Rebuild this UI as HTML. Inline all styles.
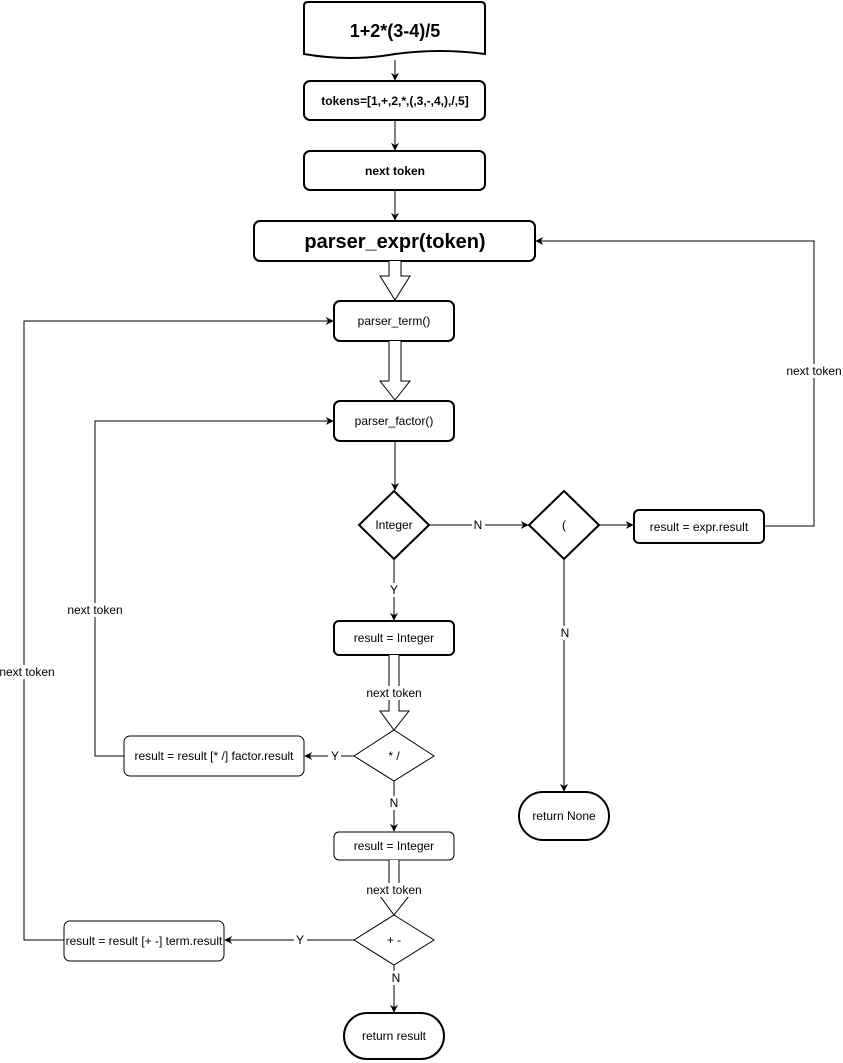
<!DOCTYPE html>
<html><head><meta charset="utf-8"><style>
html,body{margin:0;padding:0;background:#fff;}
svg{display:block;}
text{font-family:"Liberation Sans",Arial,sans-serif;fill:#000;}
</style></head><body>
<svg width="843" height="1063" viewBox="0 0 843 1063" xmlns="http://www.w3.org/2000/svg">
<defs>
<marker id="a" viewBox="0 0 10 10" refX="9" refY="5" markerWidth="8" markerHeight="8" markerUnits="userSpaceOnUse" orient="auto">
<path d="M0,0 L10,5 L0,10 L3,5 z" fill="#000"/>
</marker>
</defs>
<g fill="none" stroke="#000" stroke-width="1">
<!-- doc -->
<path d="M304,6 Q304,2 308,2 L481,2 Q485,2 485,6 L485,54 Q440,48 395,54 Q350,62 304,54 Z" stroke-width="2" fill="#fff"/>
<line x1="395" y1="60" x2="395" y2="80" marker-end="url(#a)"/>
<rect x="304" y="81" width="181" height="39" rx="6" stroke-width="2"/>
<line x1="395" y1="120" x2="395" y2="150" marker-end="url(#a)"/>
<rect x="304" y="151" width="181" height="39" rx="6" stroke-width="2"/>
<line x1="395" y1="190" x2="395" y2="220" marker-end="url(#a)"/>
<rect x="254" y="221" width="281" height="40" rx="6" stroke-width="2"/>
<!-- block arrow expr->term -->
<path d="M389,261 L389,276 L380,276 L395,300 L410,276 L401,276 L401,261" fill="#fff"/>
<rect x="334" y="301" width="120" height="40" rx="6" stroke-width="2"/>
<path d="M389,341 L389,381 L380,381 L395,400 L410,381 L401,381 L401,341" fill="#fff"/>
<rect x="334" y="401" width="120" height="40" rx="6" stroke-width="2"/>
<line x1="395" y1="441" x2="395" y2="490" marker-end="url(#a)"/>
<!-- Integer diamond -->
<path d="M394,491 L429,525 L394,559 L359,525 Z" stroke-width="2"/>
<line x1="429" y1="525" x2="528" y2="525" marker-end="url(#a)"/>
<path d="M564,491 L599,525 L564,559 L529,525 Z" stroke-width="2"/>
<line x1="599" y1="525" x2="633" y2="525" marker-end="url(#a)"/>
<rect x="634" y="510" width="130" height="33" rx="5" stroke-width="2"/>
<polyline points="764,526 814,526 814,241 536,241" marker-end="url(#a)"/>
<line x1="564" y1="559" x2="564" y2="791" marker-end="url(#a)"/>
<rect x="519" y="792" width="90" height="48" rx="24" stroke-width="2"/>
<line x1="394" y1="559" x2="394" y2="620" marker-end="url(#a)"/>
<rect x="334" y="621" width="120" height="34" rx="5" stroke-width="2"/>
<path d="M389,655 L389,711 L380,711 L394,730 L409,711 L399,711 L399,655" fill="#fff"/>
<path d="M394,730 L434,756 L394,781 L354,756 Z"/>
<line x1="354" y1="756" x2="305" y2="756" marker-end="url(#a)"/>
<rect x="124" y="736" width="180" height="40" rx="6"/>
<polyline points="124,756 95,756 95,421 333,421" marker-end="url(#a)"/>
<line x1="394" y1="781" x2="394" y2="831" marker-end="url(#a)"/>
<rect x="334" y="832" width="120" height="28" rx="5"/>
<path d="M389,860 L389,896 L380,896 L394,915 L409,896 L399,896 L399,860" fill="#fff"/>
<path d="M394,915 L434,940 L394,965 L354,940 Z"/>
<line x1="354" y1="940" x2="225" y2="940" marker-end="url(#a)"/>
<rect x="64" y="921" width="160" height="40" rx="6"/>
<polyline points="64,940 24,940 24,321 333,321" marker-end="url(#a)"/>
<line x1="394" y1="965" x2="394" y2="1012" marker-end="url(#a)"/>
<rect x="344" y="1013" width="100" height="46" rx="23" stroke-width="2"/>
</g>
<!-- label backgrounds -->
<g fill="#fff">
<rect x="472" y="518" width="13" height="14"/>
<rect x="784" y="364" width="60" height="14"/>
<rect x="558" y="626" width="13" height="14"/>
<rect x="388" y="583" width="13" height="14"/>
<rect x="364" y="686" width="60" height="14"/>
<rect x="328" y="749" width="13" height="14"/>
<rect x="65" y="603" width="60" height="14"/>
<rect x="388" y="796" width="13" height="14"/>
<rect x="364" y="883" width="60" height="14"/>
<rect x="294" y="933" width="13" height="14"/>
<rect x="0" y="665" width="56" height="14"/>
<rect x="389" y="971" width="13" height="14"/>
</g>
<g font-size="12" text-anchor="middle">
<text x="395" y="37" font-size="18" font-weight="bold">1+2*(3-4)/5</text>
<text x="395" y="105" font-weight="bold">tokens=[1,+,2,*,(,3,-,4,),/,5]</text>
<text x="395" y="175" font-weight="bold">next token</text>
<text x="395" y="248" font-size="20" font-weight="bold">parser_expr(token)</text>
<text x="394" y="325">parser_term()</text>
<text x="394" y="425">parser_factor()</text>
<text x="394" y="529">Integer</text>
<text x="564" y="529">(</text>
<text x="699" y="531">result = expr.result</text>
<text x="564" y="820">return None</text>
<text x="394" y="642">result = Integer</text>
<text x="394" y="760">* /</text>
<text x="214" y="760">result = result [* /] factor.result</text>
<text x="394" y="850">result = Integer</text>
<text x="394" y="944">+ -</text>
<text x="144" y="945">result = result [+ -] term.result</text>
<text x="394" y="1040">return result</text>
<text x="478" y="529">N</text>
<text x="814" y="375">next token</text>
<text x="565" y="637">N</text>
<text x="394" y="594">Y</text>
<text x="394" y="697">next token</text>
<text x="335" y="760">Y</text>
<text x="95" y="614">next token</text>
<text x="394" y="807">N</text>
<text x="394" y="894">next token</text>
<text x="300" y="944">Y</text>
<text x="27" y="676">next token</text>
<text x="396" y="982">N</text>
</g>
</svg>
</body></html>
